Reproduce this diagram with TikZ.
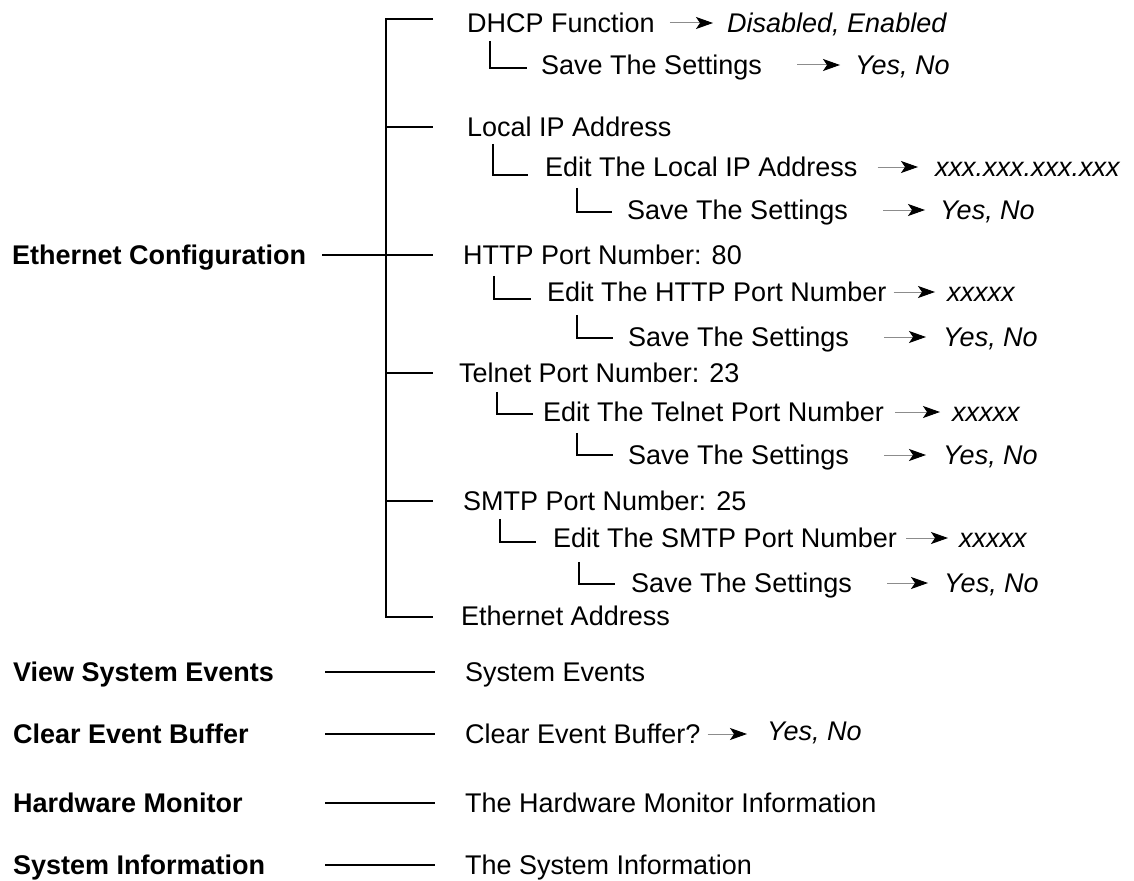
\documentclass[tikz,border=0pt]{standalone}
\usepackage{fontspec}
\setmainfont{Liberation Sans}
\usepackage{tikz}
\usetikzlibrary{arrows.meta}
\definecolor{arrgray}{RGB}{140,140,140}

\begin{document}
\begin{tikzpicture}[x=1pt,y=-1pt,
  item/.style={anchor=west,inner sep=0pt,text height=19.3pt,text depth=0pt,font=\fontsize{27}{32}\selectfont},
  menu/.style={item,font=\fontsize{27}{32}\selectfont\bfseries},
  val/.style={item,font=\fontsize{27}{32}\selectfont\itshape},
  tree/.style={line width=1.8pt},
  valarrow/.style={draw=arrgray,line width=1pt,-{Stealth[length=17pt,width=12pt,inset=4pt,color=black]}}]
\useasboundingbox (0,0) rectangle (1134,880);
\node[menu] (eth) at (12,255) {Ethernet Configuration};
\node[item] (dhcp) at (467,23) {DHCP Function};
\node[item] (dhcpsave) at (541,65) {Save The Settings};
\node[item] (lip) at (467,127) {Local IP Address};
\node[item] (lipedit) at (545,167) {Edit The Local IP Address};
\node[item] (lipsave) at (627,210) {Save The Settings};
\node[item] (http) at (463,255) {HTTP Port Number: 80};
\node[item] (httpedit) at (547,292) {Edit The HTTP Port Number};
\node[item] (httpsave) at (628,337) {Save The Settings};
\node[item] (tel) at (459,373) {Telnet Port Number: 23};
\node[item] (teledit) at (543,412) {Edit The Telnet Port Number};
\node[item] (telsave) at (628,455) {Save The Settings};
\node[item] (smtp) at (463,501) {SMTP Port Number: 25};
\node[item] (smtpedit) at (553,538) {Edit The SMTP Port Number};
\node[item] (smtpsave) at (631,583) {Save The Settings};
\node[item] (ethaddr) at (461,616) {Ethernet Address};
\node[val] (dhcpval) at (727,23) {Disabled, Enabled};
\node[val] (dhcpsaveval) at (855,65) {Yes, No};
\node[val] (lipeditval) at (935,167) {xxx.xxx.xxx.xxx};
\node[val] (lipsaveval) at (940,210) {Yes, No};
\node[val] (httpeditval) at (947,292) {xxxxx};
\node[val] (httpsaveval) at (943,337) {Yes, No};
\node[val] (teleditval) at (952,412) {xxxxx};
\node[val] (telsaveval) at (943,455) {Yes, No};
\node[val] (smtpeditval) at (959,538) {xxxxx};
\node[val] (smtpsaveval) at (944,583) {Yes, No};
\coordinate (trunk) at (386,19);
\coordinate (lend) at (325,0);
\draw[tree] ([xshift=-34pt,yshift=4pt]dhcp.west) -| (trunk) |- ([xshift=-28pt,yshift=-1pt]ethaddr.west);
\draw[tree] (lip.west -| trunk) -- ([xshift=-34pt]lip.west);
\draw[tree] ([xshift=16pt]eth.east) -- ([xshift=-30pt]http.west);
\draw[tree] (tel.west -| trunk) -- ([xshift=-26pt]tel.west);
\draw[tree] (smtp.west -| trunk) -- ([xshift=-30pt]smtp.west);
\draw[tree] ([xshift=23pt,yshift=-8pt]dhcp.south west) |- ([xshift=-14pt,yshift=-3pt]dhcpsave.west);
\draw[tree] ([xshift=26pt,yshift=-7pt]lip.south west) |- ([xshift=-17pt,yshift=-8pt]lipedit.west);
\draw[tree] ([xshift=32pt,yshift=-11pt]lipedit.south west) |- ([xshift=-15pt,yshift=-2pt]lipsave.west);
\draw[tree] ([xshift=31pt,yshift=-11pt]http.south west) |- ([xshift=-16pt,yshift=-7pt]httpedit.west);
\draw[tree] ([xshift=30pt,yshift=-13pt]httpedit.south west) |- ([xshift=-15pt,yshift=-1pt]httpsave.west);
\draw[tree] ([xshift=38pt,yshift=-9pt]tel.south west) |- ([xshift=-10pt,yshift=-2pt]teledit.west);
\draw[tree] ([xshift=34pt,yshift=-11pt]teledit.south west) |- ([xshift=-15pt]telsave.west);
\draw[tree] ([xshift=37pt,yshift=-8pt]smtp.south west) |- ([xshift=-17pt,yshift=-4pt]smtpedit.west);
\draw[tree] ([xshift=26pt,yshift=-14pt]smtpedit.south west) |- ([xshift=-16pt,yshift=-1pt]smtpsave.west);
\draw[valarrow] ([xshift=15pt]dhcp.east) -- ([xshift=-14pt]dhcpval.west);
\draw[valarrow] ([xshift=35pt]dhcpsave.east) -- ([xshift=-15pt]dhcpsaveval.west);
\draw[valarrow] ([xshift=20pt]lipedit.east) -- ([xshift=-17pt]lipeditval.west);
\draw[valarrow] ([xshift=35pt]lipsave.east) -- ([xshift=-15pt]lipsaveval.west);
\draw[valarrow] ([xshift=7pt]httpedit.east) -- ([xshift=-12pt]httpeditval.west);
\draw[valarrow] ([xshift=35pt]httpsave.east) -- ([xshift=-17pt]httpsaveval.west);
\draw[valarrow] ([xshift=11pt]teledit.east) -- ([xshift=-12pt]teleditval.west);
\draw[valarrow] ([xshift=35pt]telsave.east) -- ([xshift=-17pt]telsaveval.west);
\draw[valarrow] ([xshift=9pt]smtpedit.east) -- ([xshift=-11pt]smtpeditval.west);
\draw[valarrow] ([xshift=35pt]smtpsave.east) -- ([xshift=-16pt]smtpsaveval.west);
\foreach \i/\y/\l/\r in {1/672/View System Events/System Events,
    2/734/Clear Event Buffer/Clear Event Buffer?,
    3/803/Hardware Monitor/The Hardware Monitor Information,
    4/865/System Information/The System Information} {
  \node[menu] (m\i) at (13,\y) {\l};
  \node[item] (s\i) at (465,\y) {\r};
  \draw[tree] (m\i.east -| lend) -- ([xshift=-30pt]s\i.west);
}
\node[val] (cebval) at (767,731) {Yes, No};
\draw[valarrow] ([xshift=7pt]s2.east) -- ([xshift=-20pt]cebval.west |- s2.east);
\end{tikzpicture}
\end{document}
